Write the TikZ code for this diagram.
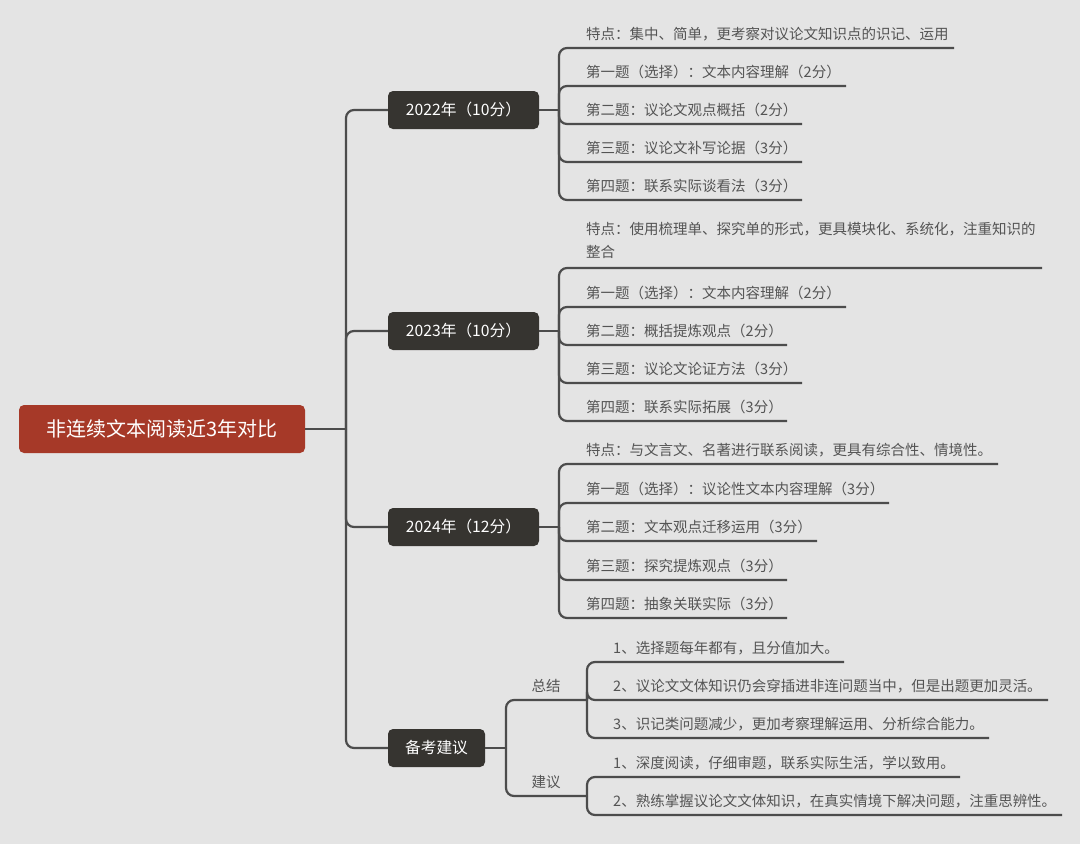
\documentclass[tikz,border=0pt]{standalone}
\usepackage{fontspec}
\newfontfamily\cjk{Noto Sans CJK SC}
\definecolor{bgc}{RGB}{228,228,228}
\definecolor{linec}{RGB}{76,76,76}
\definecolor{itemc}{RGB}{84,84,84}
\definecolor{boxc}{RGB}{54,52,48}
\definecolor{rootc}{RGB}{166,57,40}
\tikzset{
  rootbox/.style={fill=rootc, text=white, rounded corners=5pt, minimum width=286pt, minimum height=48pt, inner sep=0pt, font=\cjk\fontsize{20}{24}\selectfont},
  yearbox/.style={fill=boxc, text=white, rounded corners=5pt, minimum height=38pt, inner sep=0pt, font=\cjk\fontsize{15.7}{18}\selectfont},
  item/.style={text=itemc, inner sep=0pt, anchor=base west, font=\cjk\fontsize{14.5}{23}\selectfont},
  link/.style={draw=linec, line width=2.2pt},
  elbow/.style={link, rounded corners=8pt},
}
\newcommand\itm[6]{%
  \node[item] (#1) at (#3,{#4-9}) {#6};
  \coordinate (#1e) at (#5,#4);
  \draw[elbow] (#2) |- (#1e);
}
\begin{document}
\begin{tikzpicture}[x=1pt,y=-1pt]
\fill[bgc] (0,0) rectangle (1080,844);
\useasboundingbox (0,0) rectangle (1080,844);

% root
\node[rootbox] (root) at (162,429) {非连续文本阅读近3年对比};
\coordinate (t) at (346,429);
\draw[link] (root.east) -- (t);

% year boxes
\node[yearbox, minimum width=151pt] (y22) at (463.5,110) {2022年（10分）};
\node[yearbox, minimum width=151pt] (y23) at (463.5,331) {2023年（10分）};
\node[yearbox, minimum width=151pt] (y24) at (463.5,527) {2024年（12分）};
\node[yearbox, minimum width=97pt] (bk) at (436.5,748) {备考建议};
\draw[elbow] (t) |- (y22.west);
\draw[elbow] (t) |- (y23.west);
\draw[elbow] (t) |- (y24.west);
\draw[elbow] (t) |- (bk.west);

% 2022
\coordinate (j22) at (559,110);
\draw[link] (y22.east) -- (j22);
\itm{a0}{j22}{586}{48}{954}{特点：集中、简单，更考察对议论文知识点的识记、运用}
\itm{a1}{j22}{586}{86}{846}{第一题（选择）：文本内容理解（2分）}
\itm{a2}{j22}{586}{124}{802}{第二题：议论文观点概括（2分）}
\itm{a3}{j22}{586}{162}{802}{第三题：议论文补写论据（3分）}
\itm{a4}{j22}{586}{200}{802}{第四题：联系实际谈看法（3分）}

% 2023
\coordinate (j23) at (559,331);
\draw[link] (y23.east) -- (j23);
\node[item, anchor=north west, align=left] (b0) at (586,222) {特点：使用梳理单、探究单的形式，更具模块化、系统化，注重知识的\\整合};
\coordinate (b0e) at (1042,268);
\draw[elbow] (j23) |- (b0e);
\itm{b1}{j23}{586}{307}{846}{第一题（选择）：文本内容理解（2分）}
\itm{b2}{j23}{586}{345}{787}{第二题：概括提炼观点（2分）}
\itm{b3}{j23}{586}{383}{802}{第三题：议论文论证方法（3分）}
\itm{b4}{j23}{586}{421}{787}{第四题：联系实际拓展（3分）}

% 2024
\coordinate (j24) at (559,527);
\draw[link] (y24.east) -- (j24);
\itm{c0}{j24}{586}{464}{998}{特点：与文言文、名著进行联系阅读，更具有综合性、情境性。}
\itm{c1}{j24}{586}{503}{889}{第一题（选择）：议论性文本内容理解（3分）}
\itm{c2}{j24}{586}{541}{817}{第二题：文本观点迁移运用（3分）}
\itm{c3}{j24}{586}{580}{787}{第三题：探究提炼观点（3分）}
\itm{c4}{j24}{586}{618}{787}{第四题：抽象关联实际（3分）}

% 备考建议
\coordinate (jb) at (506,748);
\draw[link] (bk.east) -- (jb);
\node[item, anchor=base] (zj) at (546,691) {总结};
\coordinate (zje) at (587,700);
\draw[elbow] (jb) |- (zje);
\node[item, anchor=base] (jy) at (546,787) {建议};
\coordinate (jye) at (587,796);
\draw[elbow] (jb) |- (jye);
\itm{d1}{zje}{613}{662}{844}{1、选择题每年都有，且分值加大。}
\itm{d2}{zje}{613}{700}{1048}{2、议论文文体知识仍会穿插进非连问题当中，但是出题更加灵活。}
\itm{d3}{zje}{613}{738}{989}{3、识记类问题减少，更加考察理解运用、分析综合能力。}
\itm{e1}{jye}{613}{777}{960}{1、深度阅读，仔细审题，联系实际生活，学以致用。}
\itm{e2}{jye}{613}{815}{1062}{2、熟练掌握议论文文体知识，在真实情境下解决问题，注重思辨性。}
\end{tikzpicture}
\end{document}
